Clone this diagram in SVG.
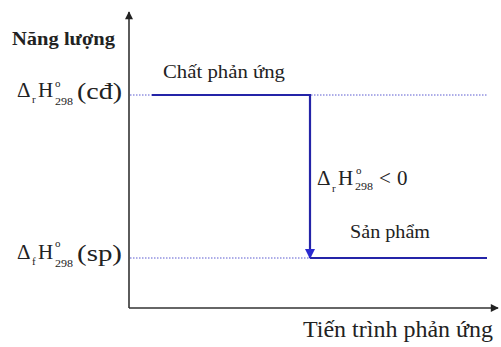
<svg xmlns="http://www.w3.org/2000/svg" width="501" height="347" viewBox="0 0 501 347">
<defs>
<marker id="ah" viewBox="0 0 10 10" refX="9" refY="5" markerWidth="9" markerHeight="8" markerUnits="userSpaceOnUse" orient="auto"><path d="M0,0 L10,5 L0,10 z" fill="#222"/></marker>
<marker id="ab" viewBox="0 0 10 10" refX="9" refY="5" markerWidth="10" markerHeight="10" markerUnits="userSpaceOnUse" orient="auto"><path d="M0,0 L10,5 L0,10 z" fill="#2a2ad0"/></marker>
</defs>
<style>
.t{font-family:"Liberation Serif","Times New Roman",serif;fill:#222}
.ax{stroke:#333;stroke-width:1.6;fill:none}
.lv{stroke:#2424a8;stroke-width:2.2;fill:none}
.dt{stroke:#5a5ad0;stroke-width:1;stroke-dasharray:1.5,1.5;fill:none}
.m{font-size:21px}
.s{font-size:11px}
</style>
<rect width="501" height="347" fill="#fff"/>
<g id="connectors">
<line class="ax" x1="129" y1="308" x2="129" y2="12" marker-end="url(#ah)"/>
<line class="ax" x1="129" y1="308" x2="498" y2="308" marker-end="url(#ah)"/>
<line class="dt" x1="130" y1="95" x2="152" y2="95"/>
<line class="dt" x1="311" y1="95" x2="488" y2="95"/>
<line class="dt" x1="130" y1="258" x2="310" y2="258"/>
<line class="lv" x1="152" y1="95" x2="311" y2="95"/>
<line class="lv" x1="310" y1="258" x2="487" y2="258"/>
<line class="lv" x1="310" y1="95" x2="310" y2="258" stroke="#3030c8" stroke-width="2" marker-end="url(#ab)"/>
</g>
<g id="yaxis-label"><text class="t" x="12" y="45" font-size="19" font-weight="bold" textLength="103" lengthAdjust="spacingAndGlyphs">Năng lượng</text></g>
<g id="xaxis-label"><text class="t" x="303" y="337" font-size="24" textLength="190" lengthAdjust="spacingAndGlyphs">Tiến trình phản ứng</text></g>
<g id="reactants">
<text class="t" x="163" y="78" font-size="19" textLength="122" lengthAdjust="spacingAndGlyphs">Chất phản ứng</text>
<text class="t"><tspan class="m" x="17" y="97">Δ</tspan><tspan class="s" x="32" y="103" font-size="9">r</tspan><tspan class="m" x="38" y="97">H</tspan><tspan class="s" x="55" y="87">o</tspan><tspan class="s" x="55" y="105" textLength="18" lengthAdjust="spacingAndGlyphs">298</tspan><tspan x="77" y="99" font-size="23" textLength="45" lengthAdjust="spacingAndGlyphs">(cđ)</tspan></text>
</g>
<g id="products">
<text class="t" x="350" y="238" font-size="19" textLength="80" lengthAdjust="spacingAndGlyphs">Sản phẩm</text>
<text class="t"><tspan class="m" x="17" y="259">Δ</tspan><tspan class="s" x="32" y="265" font-size="9">f</tspan><tspan class="m" x="38" y="259">H</tspan><tspan class="s" x="55" y="247">o</tspan><tspan class="s" x="55" y="267" textLength="18" lengthAdjust="spacingAndGlyphs">298</tspan><tspan x="77" y="261" font-size="23" textLength="45" lengthAdjust="spacingAndGlyphs">(sp)</tspan></text>
</g>
<g id="delta">
<text class="t"><tspan class="m" x="317" y="185">Δ</tspan><tspan class="s" x="332" y="192" font-size="9">r</tspan><tspan class="m" x="338" y="185">H</tspan><tspan class="s" x="356" y="174">o</tspan><tspan class="s" x="355" y="190" textLength="18" lengthAdjust="spacingAndGlyphs">298</tspan><tspan class="m" x="379" y="185">&lt;</tspan><tspan class="m" x="397" y="185">0</tspan></text>
</g>
</svg>
